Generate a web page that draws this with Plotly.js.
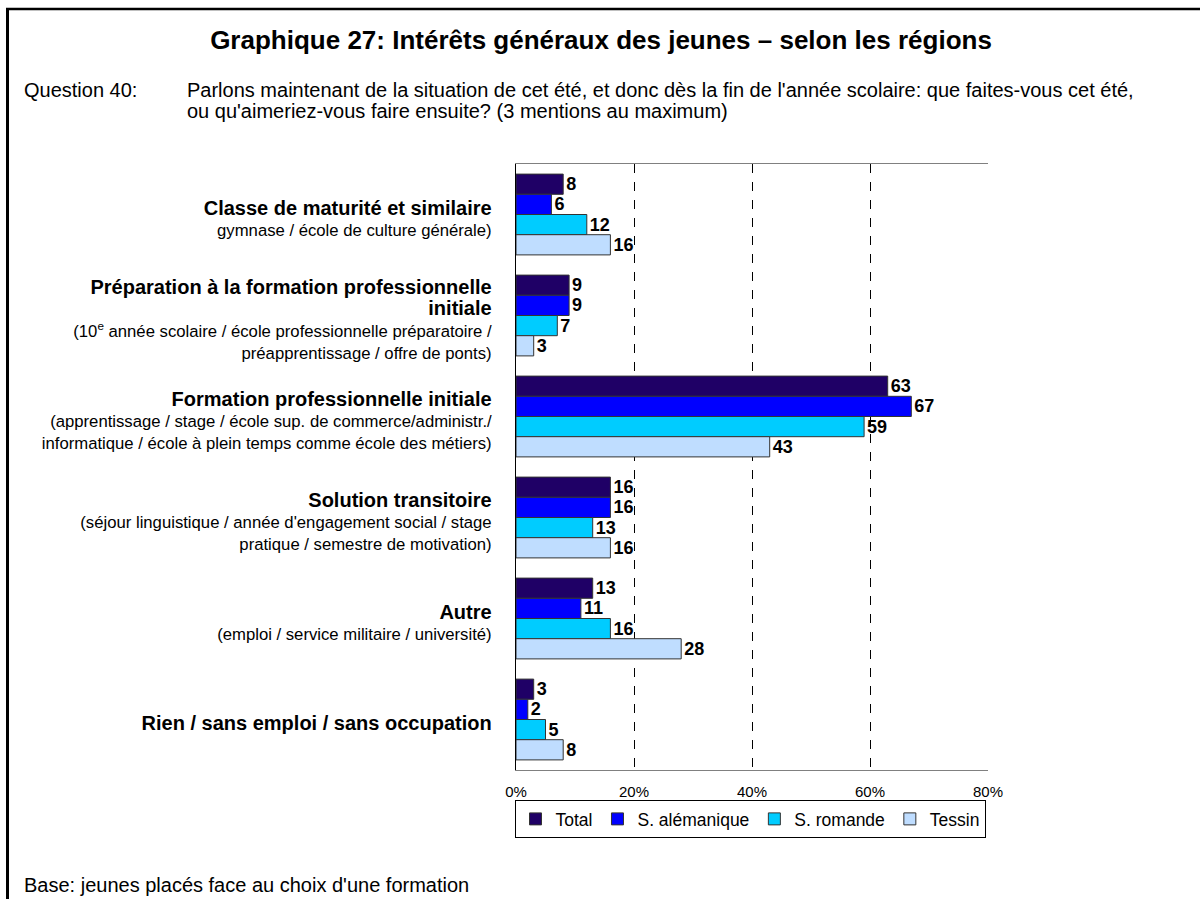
<!DOCTYPE html>
<html>
<head>
<meta charset="utf-8">
<script src="https://cdn.plot.ly/plotly-3.0.1.min.js"></script>
<style>html,body{margin:0;padding:0;background:#fff;}#chart{width:1200px;height:899px;}</style>
</head>
<body>
<div id="chart"></div>
<script>
// Data
var categories = [
  "Classe de maturité et similaire",
  "Préparation à la formation professionnelle initiale",
  "Formation professionnelle initiale",
  "Solution transitoire",
  "Autre",
  "Rien / sans emploi / sans occupation"
];
var titleLines = [
  ["Classe de maturité et similaire"],
  ["Préparation à la formation professionnelle", "initiale"],
  ["Formation professionnelle initiale"],
  ["Solution transitoire"],
  ["Autre"],
  ["Rien / sans emploi / sans occupation"]
];
var detailLines = [
  ["gymnase / école de culture générale)"],
  ["(10<sup>e</sup> année scolaire / école professionnelle préparatoire /", "préapprentissage / offre de ponts)"],
  ["(apprentissage / stage / école sup. de commerce/administr./", "informatique / école à plein temps comme école des métiers)"],
  ["(séjour linguistique / année d'engagement social / stage", "pratique / semestre de motivation)"],
  ["(emploi / service militaire / université)"],
  []
];
var seriesNames = ["Total", "S. alémanique", "S. romande", "Tessin"];
var total       = [8, 9, 63, 16, 13, 3];
var alemanique  = [6, 9, 67, 16, 11, 2];
var romande     = [12, 7, 59, 13, 16, 5];
var tessin      = [16, 3, 43, 16, 28, 8];
var seriesValues = [total, alemanique, romande, tessin];
var seriesColors = ["#1F0066", "#0000FF", "#00CCFF", "#BFDDFF"];
var xTickVals = [0, 20, 40, 60, 80];
var xTickText = ["0%", "20%", "40%", "60%", "80%"];

var chartTitle = "Graphique 27: Intérêts généraux des jeunes – selon les régions";
var questionLabel = "Question 40:";
var questionLine1 = "Parlons maintenant de la situation de cet été, et donc dès la fin de l'année scolaire: que faites-vous cet été,";
var questionLine2 = "ou qu'aimeriez-vous faire ensuite? (3 mentions au maximum)";
var footerText = "Base: jeunes placés face au choix d'une formation";

// Build tick labels
var tickText = categories.map(function(c, i){
  var parts = titleLines[i].map(function(t){ return '<span style="font-size:20px"><b>' + t + '</b></span>'; });
  detailLines[i].forEach(function(d){ parts.push(d); });
  return parts.join('<br>');
});

var traces = seriesNames.map(function(name, k){
  return {
    type: 'bar',
    orientation: 'h',
    name: name,
    y: categories,
    x: seriesValues[k],
    text: seriesValues[k].map(String),
    textposition: 'outside',
    cliponaxis: false,
    textfont: {family: 'Liberation Sans, Arial, sans-serif', size: 18, color: '#000'},
    texttemplate: '<b>%{text}</b>',
    marker: {color: seriesColors[k], line: {color: '#333333', width: 1}},
    hoverinfo: 'x+name'
  };
});

// pixel -> paper helpers (plot area: x 516..988, y 164..770)
var L = 516, R = 988, T = 164, B = 770;
function px(x){ return (x - L) / (R - L); }
function py(y){ return (B - y) / (B - T); }

var layout = {
  width: 1200, height: 899,
  margin: {l: L, r: 1200 - R, t: T, b: 899 - B, pad: 0},
  paper_bgcolor: '#fff', plot_bgcolor: '#fff',
  font: {family: 'Liberation Sans, Arial, sans-serif', size: 16, color: '#000'},
  title: {
    text: '<b>' + chartTitle + '</b>',
    font: {size: 26, color: '#000'},
    x: 601 / 1200, xanchor: 'center', xref: 'container',
    y: 1 - 40 / 899, yanchor: 'middle', yref: 'container'
  },
  barmode: 'group',
  bargap: 0.2,
  bargroupgap: 0,
  showlegend: true,
  legend: {
    orientation: 'h',
    x: px(750), xanchor: 'center',
    y: py(800), yanchor: 'top',
    bordercolor: '#000', borderwidth: 1,
    font: {size: 17.5},
    traceorder: 'normal',
    itemwidth: 30
  },
  xaxis: {
    range: [0, 80],
    tickvals: xTickVals, ticktext: xTickText,
    showgrid: true, gridcolor: '#000', griddash: 'dash', gridwidth: 1,
    zeroline: false,
    showline: true, linecolor: '#808080', linewidth: 1, mirror: true,
    ticks: '', ticklabelstandoff: 8,
    tickfont: {size: 15},
    fixedrange: true
  },
  yaxis: {
    type: 'category',
    autorange: 'reversed',
    tickvals: categories, ticktext: tickText,
    showgrid: false, zeroline: false,
    showline: true, linecolor: '#000', linewidth: 1,
    ticks: '', ticklabelstandoff: 20, ticklabelshift: -5,
    tickfont: {size: 16.7},
    fixedrange: true
  },
  annotations: [
    {xref: 'paper', yref: 'paper', x: px(22), y: py(90), xanchor: 'left', yanchor: 'middle',
     text: questionLabel, showarrow: false, font: {size: 20}, align: 'left'},
    {xref: 'paper', yref: 'paper', x: px(185), y: py(90), xanchor: 'left', yanchor: 'middle',
     text: questionLine1, showarrow: false, font: {size: 20}, align: 'left'},
    {xref: 'paper', yref: 'paper', x: px(185), y: py(111), xanchor: 'left', yanchor: 'middle',
     text: questionLine2, showarrow: false, font: {size: 20}, align: 'left'},
    {xref: 'paper', yref: 'paper', x: px(22), y: py(885), xanchor: 'left', yanchor: 'middle',
     text: footerText, showarrow: false, font: {size: 20}, align: 'left'}
  ],
  shapes: [
    {type: 'line', xref: 'paper', yref: 'paper', x0: px(7.5), x1: px(7.5), y0: py(8), y1: py(905),
     line: {color: '#000', width: 3}},
    {type: 'line', xref: 'paper', yref: 'paper', x0: px(6), x1: px(1205), y0: py(9), y1: py(9),
     line: {color: '#000', width: 2.5}}
  ]
};

Plotly.newPlot('chart', traces, layout, {displayModeBar: false});
</script>
</body>
</html>
